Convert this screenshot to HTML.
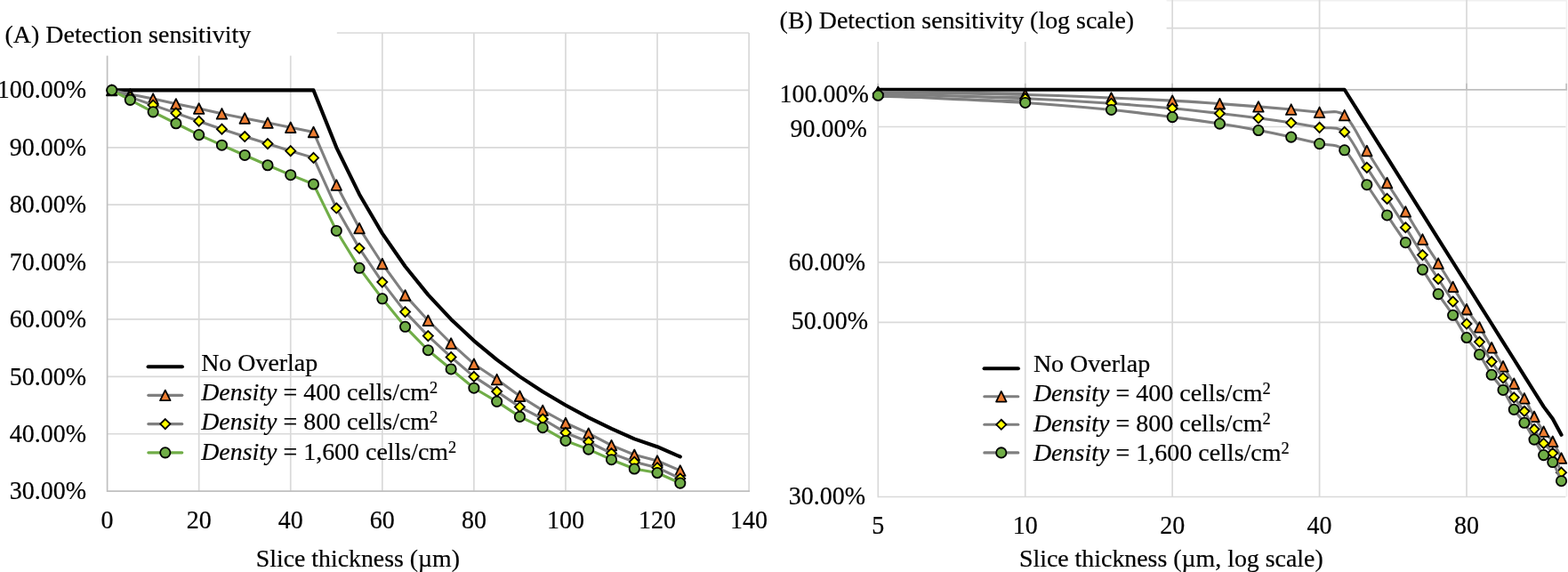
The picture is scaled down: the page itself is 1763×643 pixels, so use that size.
<!DOCTYPE html>
<html lang="en">
<head>
<meta charset="utf-8">
<title>Detection sensitivity vs slice thickness</title>
<style>
html,body{margin:0;padding:0;background:#fff;}
body{width:1763px;height:643px;overflow:hidden;font-family:"Liberation Serif","Times New Roman",serif;}
svg{display:block;}
</style>
</head>
<body>
<svg role="img" aria-label="Detection sensitivity versus slice thickness, linear and log scale" width="1763" height="643" viewBox="0 0 1763 643" font-family='&quot;Liberation Serif&quot;, &quot;Times New Roman&quot;, serif' fill="#000">
<style>text{stroke:#000;stroke-width:0.2px;stroke-linejoin:round;}</style>
<rect x="0" y="0" width="1763" height="643" fill="#fff"/>
<g id="chartA-grid">
<line x1="120.6" y1="37.01" x2="842.1" y2="37.01" stroke="#D9D9D9" stroke-width="1.7"/>
<line x1="120.6" y1="101.4" x2="842.1" y2="101.4" stroke="#D9D9D9" stroke-width="1.7"/>
<line x1="120.6" y1="165.79" x2="842.1" y2="165.79" stroke="#D9D9D9" stroke-width="1.7"/>
<line x1="120.6" y1="230.18" x2="842.1" y2="230.18" stroke="#D9D9D9" stroke-width="1.7"/>
<line x1="120.6" y1="294.56" x2="842.1" y2="294.56" stroke="#D9D9D9" stroke-width="1.7"/>
<line x1="120.6" y1="358.95" x2="842.1" y2="358.95" stroke="#D9D9D9" stroke-width="1.7"/>
<line x1="120.6" y1="423.34" x2="842.1" y2="423.34" stroke="#D9D9D9" stroke-width="1.7"/>
<line x1="120.6" y1="487.73" x2="842.1" y2="487.73" stroke="#D9D9D9" stroke-width="1.7"/>
<line x1="223.67" y1="37.01" x2="223.67" y2="552.12" stroke="#D9D9D9" stroke-width="1.7"/>
<line x1="326.74" y1="37.01" x2="326.74" y2="552.12" stroke="#D9D9D9" stroke-width="1.7"/>
<line x1="429.82" y1="37.01" x2="429.82" y2="552.12" stroke="#D9D9D9" stroke-width="1.7"/>
<line x1="532.89" y1="37.01" x2="532.89" y2="552.12" stroke="#D9D9D9" stroke-width="1.7"/>
<line x1="635.96" y1="37.01" x2="635.96" y2="552.12" stroke="#D9D9D9" stroke-width="1.7"/>
<line x1="739.03" y1="37.01" x2="739.03" y2="552.12" stroke="#D9D9D9" stroke-width="1.7"/>
<line x1="842.1" y1="37.01" x2="842.1" y2="552.12" stroke="#D9D9D9" stroke-width="1.7"/>
<line x1="120.6" y1="37.01" x2="120.6" y2="552.97" stroke="#BFBFBF" stroke-width="1.7"/>
<line x1="120.6" y1="552.12" x2="842.95" y2="552.12" stroke="#BFBFBF" stroke-width="1.7"/>
<rect x="0" y="0" width="378.8" height="62.6" fill="#fff"/>
</g>
<g id="chartB-grid">
<line x1="987.3" y1="0.7" x2="1762" y2="0.7" stroke="#F0F0F0" stroke-width="1.6"/>
<line x1="1761.4" y1="0" x2="1761.4" y2="558.5" stroke="#F0F0F0" stroke-width="1.6"/>
<line x1="987.3" y1="31.6" x2="1760.4" y2="31.6" stroke="#D9D9D9" stroke-width="1.7"/>
<line x1="987.3" y1="142.5" x2="1760.4" y2="142.5" stroke="#D9D9D9" stroke-width="1.7"/>
<line x1="987.3" y1="294.9" x2="1760.4" y2="294.9" stroke="#D9D9D9" stroke-width="1.7"/>
<line x1="987.3" y1="362.4" x2="1760.4" y2="362.4" stroke="#D9D9D9" stroke-width="1.7"/>
<line x1="1152.73" y1="0" x2="1152.73" y2="558.5" stroke="#D9D9D9" stroke-width="1.7"/>
<line x1="1318.16" y1="0" x2="1318.16" y2="558.5" stroke="#D9D9D9" stroke-width="1.7"/>
<line x1="1483.59" y1="0" x2="1483.59" y2="558.5" stroke="#D9D9D9" stroke-width="1.7"/>
<line x1="1649.02" y1="0" x2="1649.02" y2="558.5" stroke="#D9D9D9" stroke-width="1.7"/>
<line x1="987.3" y1="0" x2="987.3" y2="559.35" stroke="#D9D9D9" stroke-width="1.7"/>
<line x1="987.3" y1="558.5" x2="1760.4" y2="558.5" stroke="#D9D9D9" stroke-width="1.7"/>
<line x1="987.3" y1="100.9" x2="1762.05" y2="100.9" stroke="#BFBFBF" stroke-width="1.7"/>
<line x1="987.3" y1="93.8" x2="987.3" y2="100.9" stroke="#BFBFBF" stroke-width="1.7"/>
<line x1="1152.73" y1="93.8" x2="1152.73" y2="100.9" stroke="#BFBFBF" stroke-width="1.7"/>
<line x1="1318.16" y1="93.8" x2="1318.16" y2="100.9" stroke="#BFBFBF" stroke-width="1.7"/>
<line x1="1483.59" y1="93.8" x2="1483.59" y2="100.9" stroke="#BFBFBF" stroke-width="1.7"/>
<line x1="1649.02" y1="93.8" x2="1649.02" y2="100.9" stroke="#BFBFBF" stroke-width="1.7"/>
<line x1="1761.2" y1="93.8" x2="1761.2" y2="100.9" stroke="#BFBFBF" stroke-width="1.7"/>
<rect x="860" y="0" width="451.6" height="47" fill="#fff"/>
</g>
<g id="chartA-series">
<polyline points="125.75,101.4 146.37,101.4 172.14,101.4 197.9,101.4 223.67,101.4 249.44,101.4 275.21,101.4 300.98,101.4 326.74,101.4 352.51,101.4 378.28,165.79 404.05,218.47 429.82,262.37 455.58,299.52 481.35,331.36 507.12,358.95 532.89,383.1 558.66,404.4 584.42,423.34 610.19,440.28 635.96,455.53 661.73,469.33 687.5,481.87 713.26,493.33 739.03,502.22 764.8,513.48" fill="none" stroke="#000" stroke-width="4.1" stroke-linejoin="round" stroke-linecap="round" />
<polyline points="125.75,101.4 146.37,105.91 172.14,111.06 197.9,116.85 223.67,122 249.44,127.8 275.21,132.95 300.98,138.1 326.74,143.25 352.51,148.4 378.28,207.96 404.05,256.58 429.82,296.5 455.58,331.91 481.35,360.24 507.12,385.99 532.89,409.17 558.66,426.56 584.42,445.23 610.19,461.33 635.96,475.49 661.73,487.08 687.5,500.61 713.26,511.23 739.03,517.99 764.8,528.94" fill="none" stroke="#7F7F7F" stroke-width="3.1" stroke-linejoin="round" stroke-linecap="round" />
<path d="M125.75,95.65 L131.5,107.25 L120,107.25 Z" fill="#ED7D31" stroke="#000" stroke-width="1.8" stroke-linejoin="round"/>
<path d="M146.37,100.16 L152.12,111.76 L140.62,111.76 Z" fill="#ED7D31" stroke="#000" stroke-width="1.8" stroke-linejoin="round"/>
<path d="M172.14,105.31 L177.89,116.91 L166.39,116.91 Z" fill="#ED7D31" stroke="#000" stroke-width="1.8" stroke-linejoin="round"/>
<path d="M197.9,111.1 L203.65,122.7 L192.15,122.7 Z" fill="#ED7D31" stroke="#000" stroke-width="1.8" stroke-linejoin="round"/>
<path d="M223.67,116.25 L229.42,127.85 L217.92,127.85 Z" fill="#ED7D31" stroke="#000" stroke-width="1.8" stroke-linejoin="round"/>
<path d="M249.44,122.05 L255.19,133.65 L243.69,133.65 Z" fill="#ED7D31" stroke="#000" stroke-width="1.8" stroke-linejoin="round"/>
<path d="M275.21,127.2 L280.96,138.8 L269.46,138.8 Z" fill="#ED7D31" stroke="#000" stroke-width="1.8" stroke-linejoin="round"/>
<path d="M300.98,132.35 L306.73,143.95 L295.23,143.95 Z" fill="#ED7D31" stroke="#000" stroke-width="1.8" stroke-linejoin="round"/>
<path d="M326.74,137.5 L332.49,149.1 L320.99,149.1 Z" fill="#ED7D31" stroke="#000" stroke-width="1.8" stroke-linejoin="round"/>
<path d="M352.51,142.65 L358.26,154.25 L346.76,154.25 Z" fill="#ED7D31" stroke="#000" stroke-width="1.8" stroke-linejoin="round"/>
<path d="M378.28,202.21 L384.03,213.81 L372.53,213.81 Z" fill="#ED7D31" stroke="#000" stroke-width="1.8" stroke-linejoin="round"/>
<path d="M404.05,250.83 L409.8,262.43 L398.3,262.43 Z" fill="#ED7D31" stroke="#000" stroke-width="1.8" stroke-linejoin="round"/>
<path d="M429.82,290.75 L435.57,302.35 L424.07,302.35 Z" fill="#ED7D31" stroke="#000" stroke-width="1.8" stroke-linejoin="round"/>
<path d="M455.58,326.16 L461.33,337.76 L449.83,337.76 Z" fill="#ED7D31" stroke="#000" stroke-width="1.8" stroke-linejoin="round"/>
<path d="M481.35,354.49 L487.1,366.09 L475.6,366.09 Z" fill="#ED7D31" stroke="#000" stroke-width="1.8" stroke-linejoin="round"/>
<path d="M507.12,380.24 L512.87,391.84 L501.37,391.84 Z" fill="#ED7D31" stroke="#000" stroke-width="1.8" stroke-linejoin="round"/>
<path d="M532.89,403.42 L538.64,415.02 L527.14,415.02 Z" fill="#ED7D31" stroke="#000" stroke-width="1.8" stroke-linejoin="round"/>
<path d="M558.66,420.81 L564.41,432.41 L552.91,432.41 Z" fill="#ED7D31" stroke="#000" stroke-width="1.8" stroke-linejoin="round"/>
<path d="M584.42,439.48 L590.17,451.08 L578.67,451.08 Z" fill="#ED7D31" stroke="#000" stroke-width="1.8" stroke-linejoin="round"/>
<path d="M610.19,455.58 L615.94,467.18 L604.44,467.18 Z" fill="#ED7D31" stroke="#000" stroke-width="1.8" stroke-linejoin="round"/>
<path d="M635.96,469.74 L641.71,481.34 L630.21,481.34 Z" fill="#ED7D31" stroke="#000" stroke-width="1.8" stroke-linejoin="round"/>
<path d="M661.73,481.33 L667.48,492.93 L655.98,492.93 Z" fill="#ED7D31" stroke="#000" stroke-width="1.8" stroke-linejoin="round"/>
<path d="M687.5,494.86 L693.25,506.46 L681.75,506.46 Z" fill="#ED7D31" stroke="#000" stroke-width="1.8" stroke-linejoin="round"/>
<path d="M713.26,505.48 L719.01,517.08 L707.51,517.08 Z" fill="#ED7D31" stroke="#000" stroke-width="1.8" stroke-linejoin="round"/>
<path d="M739.03,512.24 L744.78,523.84 L733.28,523.84 Z" fill="#ED7D31" stroke="#000" stroke-width="1.8" stroke-linejoin="round"/>
<path d="M764.8,523.19 L770.55,534.79 L759.05,534.79 Z" fill="#ED7D31" stroke="#000" stroke-width="1.8" stroke-linejoin="round"/>
<polyline points="125.75,101.4 146.37,109.13 172.14,118.14 197.9,127.16 223.67,136.17 249.44,145.18 275.21,153.55 300.98,161.6 326.74,169.65 352.51,177.38 378.28,234.04 404.05,279.11 429.82,317.1 455.58,350.58 481.35,377.62 507.12,401.45 532.89,423.34 558.66,440.08 584.42,457.47 610.19,470.99 635.96,486.44 661.73,496.74 687.5,509.62 713.26,519.28 739.03,525.72 764.8,537.95" fill="none" stroke="#7F7F7F" stroke-width="3.1" stroke-linejoin="round" stroke-linecap="round" />
<path d="M125.75,95.85 L131.3,101.4 L125.75,106.95 L120.2,101.4 Z" fill="#FFFF00" stroke="#000" stroke-width="1.8" stroke-linejoin="miter"/>
<path d="M146.37,103.58 L151.92,109.13 L146.37,114.68 L140.82,109.13 Z" fill="#FFFF00" stroke="#000" stroke-width="1.8" stroke-linejoin="miter"/>
<path d="M172.14,112.59 L177.69,118.14 L172.14,123.69 L166.59,118.14 Z" fill="#FFFF00" stroke="#000" stroke-width="1.8" stroke-linejoin="miter"/>
<path d="M197.9,121.61 L203.45,127.16 L197.9,132.71 L192.35,127.16 Z" fill="#FFFF00" stroke="#000" stroke-width="1.8" stroke-linejoin="miter"/>
<path d="M223.67,130.62 L229.22,136.17 L223.67,141.72 L218.12,136.17 Z" fill="#FFFF00" stroke="#000" stroke-width="1.8" stroke-linejoin="miter"/>
<path d="M249.44,139.63 L254.99,145.18 L249.44,150.73 L243.89,145.18 Z" fill="#FFFF00" stroke="#000" stroke-width="1.8" stroke-linejoin="miter"/>
<path d="M275.21,148 L280.76,153.55 L275.21,159.1 L269.66,153.55 Z" fill="#FFFF00" stroke="#000" stroke-width="1.8" stroke-linejoin="miter"/>
<path d="M300.98,156.05 L306.53,161.6 L300.98,167.15 L295.43,161.6 Z" fill="#FFFF00" stroke="#000" stroke-width="1.8" stroke-linejoin="miter"/>
<path d="M326.74,164.1 L332.29,169.65 L326.74,175.2 L321.19,169.65 Z" fill="#FFFF00" stroke="#000" stroke-width="1.8" stroke-linejoin="miter"/>
<path d="M352.51,171.83 L358.06,177.38 L352.51,182.93 L346.96,177.38 Z" fill="#FFFF00" stroke="#000" stroke-width="1.8" stroke-linejoin="miter"/>
<path d="M378.28,228.49 L383.83,234.04 L378.28,239.59 L372.73,234.04 Z" fill="#FFFF00" stroke="#000" stroke-width="1.8" stroke-linejoin="miter"/>
<path d="M404.05,273.56 L409.6,279.11 L404.05,284.66 L398.5,279.11 Z" fill="#FFFF00" stroke="#000" stroke-width="1.8" stroke-linejoin="miter"/>
<path d="M429.82,311.55 L435.37,317.1 L429.82,322.65 L424.27,317.1 Z" fill="#FFFF00" stroke="#000" stroke-width="1.8" stroke-linejoin="miter"/>
<path d="M455.58,345.03 L461.13,350.58 L455.58,356.13 L450.03,350.58 Z" fill="#FFFF00" stroke="#000" stroke-width="1.8" stroke-linejoin="miter"/>
<path d="M481.35,372.07 L486.9,377.62 L481.35,383.17 L475.8,377.62 Z" fill="#FFFF00" stroke="#000" stroke-width="1.8" stroke-linejoin="miter"/>
<path d="M507.12,395.9 L512.67,401.45 L507.12,407 L501.57,401.45 Z" fill="#FFFF00" stroke="#000" stroke-width="1.8" stroke-linejoin="miter"/>
<path d="M532.89,417.79 L538.44,423.34 L532.89,428.89 L527.34,423.34 Z" fill="#FFFF00" stroke="#000" stroke-width="1.8" stroke-linejoin="miter"/>
<path d="M558.66,434.53 L564.21,440.08 L558.66,445.63 L553.11,440.08 Z" fill="#FFFF00" stroke="#000" stroke-width="1.8" stroke-linejoin="miter"/>
<path d="M584.42,451.92 L589.97,457.47 L584.42,463.02 L578.87,457.47 Z" fill="#FFFF00" stroke="#000" stroke-width="1.8" stroke-linejoin="miter"/>
<path d="M610.19,465.44 L615.74,470.99 L610.19,476.54 L604.64,470.99 Z" fill="#FFFF00" stroke="#000" stroke-width="1.8" stroke-linejoin="miter"/>
<path d="M635.96,480.89 L641.51,486.44 L635.96,491.99 L630.41,486.44 Z" fill="#FFFF00" stroke="#000" stroke-width="1.8" stroke-linejoin="miter"/>
<path d="M661.73,491.19 L667.28,496.74 L661.73,502.29 L656.18,496.74 Z" fill="#FFFF00" stroke="#000" stroke-width="1.8" stroke-linejoin="miter"/>
<path d="M687.5,504.07 L693.05,509.62 L687.5,515.17 L681.95,509.62 Z" fill="#FFFF00" stroke="#000" stroke-width="1.8" stroke-linejoin="miter"/>
<path d="M713.26,513.73 L718.81,519.28 L713.26,524.83 L707.71,519.28 Z" fill="#FFFF00" stroke="#000" stroke-width="1.8" stroke-linejoin="miter"/>
<path d="M739.03,520.17 L744.58,525.72 L739.03,531.27 L733.48,525.72 Z" fill="#FFFF00" stroke="#000" stroke-width="1.8" stroke-linejoin="miter"/>
<path d="M764.8,532.4 L770.35,537.95 L764.8,543.5 L759.25,537.95 Z" fill="#FFFF00" stroke="#000" stroke-width="1.8" stroke-linejoin="miter"/>
<polyline points="125.75,101.4 146.37,112.35 172.14,125.87 197.9,138.75 223.67,151.62 249.44,163.21 275.21,174.48 300.98,185.75 326.74,196.69 352.51,207 378.28,259.47 404.05,301.32 429.82,335.77 455.58,367.32 481.35,393.72 507.12,414.97 532.89,436.22 558.66,451.35 584.42,468.41 610.19,480.65 635.96,495.45 661.73,505.11 687.5,516.7 713.26,527 739.03,531.51 764.8,543.1" fill="none" stroke="#70AD47" stroke-width="3.1" stroke-linejoin="round" stroke-linecap="round" />
<circle cx="125.75" cy="101.4" r="5.65" fill="#70AD47" stroke="#000" stroke-width="1.8"/>
<circle cx="146.37" cy="112.35" r="5.65" fill="#70AD47" stroke="#000" stroke-width="1.8"/>
<circle cx="172.14" cy="125.87" r="5.65" fill="#70AD47" stroke="#000" stroke-width="1.8"/>
<circle cx="197.9" cy="138.75" r="5.65" fill="#70AD47" stroke="#000" stroke-width="1.8"/>
<circle cx="223.67" cy="151.62" r="5.65" fill="#70AD47" stroke="#000" stroke-width="1.8"/>
<circle cx="249.44" cy="163.21" r="5.65" fill="#70AD47" stroke="#000" stroke-width="1.8"/>
<circle cx="275.21" cy="174.48" r="5.65" fill="#70AD47" stroke="#000" stroke-width="1.8"/>
<circle cx="300.98" cy="185.75" r="5.65" fill="#70AD47" stroke="#000" stroke-width="1.8"/>
<circle cx="326.74" cy="196.69" r="5.65" fill="#70AD47" stroke="#000" stroke-width="1.8"/>
<circle cx="352.51" cy="207" r="5.65" fill="#70AD47" stroke="#000" stroke-width="1.8"/>
<circle cx="378.28" cy="259.47" r="5.65" fill="#70AD47" stroke="#000" stroke-width="1.8"/>
<circle cx="404.05" cy="301.32" r="5.65" fill="#70AD47" stroke="#000" stroke-width="1.8"/>
<circle cx="429.82" cy="335.77" r="5.65" fill="#70AD47" stroke="#000" stroke-width="1.8"/>
<circle cx="455.58" cy="367.32" r="5.65" fill="#70AD47" stroke="#000" stroke-width="1.8"/>
<circle cx="481.35" cy="393.72" r="5.65" fill="#70AD47" stroke="#000" stroke-width="1.8"/>
<circle cx="507.12" cy="414.97" r="5.65" fill="#70AD47" stroke="#000" stroke-width="1.8"/>
<circle cx="532.89" cy="436.22" r="5.65" fill="#70AD47" stroke="#000" stroke-width="1.8"/>
<circle cx="558.66" cy="451.35" r="5.65" fill="#70AD47" stroke="#000" stroke-width="1.8"/>
<circle cx="584.42" cy="468.41" r="5.65" fill="#70AD47" stroke="#000" stroke-width="1.8"/>
<circle cx="610.19" cy="480.65" r="5.65" fill="#70AD47" stroke="#000" stroke-width="1.8"/>
<circle cx="635.96" cy="495.45" r="5.65" fill="#70AD47" stroke="#000" stroke-width="1.8"/>
<circle cx="661.73" cy="505.11" r="5.65" fill="#70AD47" stroke="#000" stroke-width="1.8"/>
<circle cx="687.5" cy="516.7" r="5.65" fill="#70AD47" stroke="#000" stroke-width="1.8"/>
<circle cx="713.26" cy="527" r="5.65" fill="#70AD47" stroke="#000" stroke-width="1.8"/>
<circle cx="739.03" cy="531.51" r="5.65" fill="#70AD47" stroke="#000" stroke-width="1.8"/>
<circle cx="764.8" cy="543.1" r="5.65" fill="#70AD47" stroke="#000" stroke-width="1.8"/>
</g>
<defs><clipPath id="clipB"><rect x="987.3" y="0" width="775.7" height="558.5"/></clipPath></defs>
<g id="chartB-series">
<polyline points="987.3,100.75 1152.73,100.75 1249.5,100.75 1318.16,100.75 1371.42,100.75 1414.93,100.75 1451.72,100.75 1483.59,100.75 1511.7,100.75 1536.85,140.77 1559.59,176.96 1580.36,210.01 1599.46,240.41 1617.15,268.56 1633.62,294.76 1649.02,319.27 1663.49,342.3 1677.13,364.01 1690.03,384.54 1702.28,404.02 1713.92,422.55 1725.02,440.22 1735.63,457.1 1745.79,470.75 1755.53,488.77" fill="none" stroke="#000" stroke-width="4.1" stroke-linejoin="round" stroke-linecap="round" />
<polyline points="988.3,102.9 1152.73,104.5" fill="none" stroke="#7F7F7F" stroke-width="1.8" stroke-linejoin="round" stroke-linecap="round" />
<polyline points="988.3,108.9 1152.73,113.3" fill="none" stroke="#7F7F7F" stroke-width="1.6" stroke-linejoin="round" stroke-linecap="round" />
<polyline points="988.3,106.5 1152.73,108.8" fill="none" stroke="#7F7F7F" stroke-width="1.2" stroke-linejoin="round" stroke-linecap="round" />
<path d="M987.3,103.42 C1014.87,103.93 1109.03,105.4 1152.73,106.49 C1196.43,107.58 1221.93,108.87 1249.5,109.98 C1277.07,111.08 1297.84,111.99 1318.16,113.1 C1338.48,114.21 1355.29,115.53 1371.42,116.65 C1387.54,117.77 1401.55,118.77 1414.93,119.83 C1428.31,120.9 1440.28,121.97 1451.72,123.04 C1463.16,124.11 1473.59,125.19 1483.59,126.28 C1493.59,127.36 1502.82,122.34 1511.7,129.54 C1520.58,136.74 1528.86,156.81 1536.85,169.46 C1544.83,182.12 1552.34,194.08 1559.59,205.48 C1566.85,216.88 1573.72,227.25 1580.36,237.85 C1587.01,248.44 1593.33,259.37 1599.46,269.06 C1605.6,278.76 1611.46,287.15 1617.15,296.03 C1622.84,304.91 1628.31,313.72 1633.62,322.32 C1638.93,330.93 1644.04,340.07 1649.02,347.65 C1654,355.24 1658.8,360.64 1663.49,367.82 C1668.17,375.01 1672.71,383.44 1677.13,390.75 C1681.55,398.07 1685.84,404.97 1690.03,411.7 C1694.23,418.43 1698.3,425.11 1702.28,431.13 C1706.26,437.15 1710.13,441.62 1713.92,447.81 C1717.71,453.99 1721.41,462.02 1725.02,468.24 C1728.64,474.45 1732.17,480.43 1735.63,485.1 C1739.09,489.76 1742.47,491.25 1745.79,496.23 C1749.11,501.21 1753.91,511.85 1755.53,514.98" fill="none" stroke="#7F7F7F" stroke-width="3.1" stroke-linejoin="round" stroke-linecap="round" />
<path d="M987.3,97.67 L993.05,109.27 L981.55,109.27 Z" fill="#ED7D31" stroke="#000" stroke-width="1.8" stroke-linejoin="round"/>
<path d="M1152.73,100.74 L1158.48,112.34 L1146.98,112.34 Z" fill="#ED7D31" stroke="#000" stroke-width="1.8" stroke-linejoin="round"/>
<path d="M1249.5,104.23 L1255.25,115.83 L1243.75,115.83 Z" fill="#ED7D31" stroke="#000" stroke-width="1.8" stroke-linejoin="round"/>
<path d="M1318.16,107.35 L1323.91,118.95 L1312.41,118.95 Z" fill="#ED7D31" stroke="#000" stroke-width="1.8" stroke-linejoin="round"/>
<path d="M1371.42,110.9 L1377.17,122.5 L1365.67,122.5 Z" fill="#ED7D31" stroke="#000" stroke-width="1.8" stroke-linejoin="round"/>
<path d="M1414.93,114.08 L1420.68,125.68 L1409.18,125.68 Z" fill="#ED7D31" stroke="#000" stroke-width="1.8" stroke-linejoin="round"/>
<path d="M1451.72,117.29 L1457.47,128.89 L1445.97,128.89 Z" fill="#ED7D31" stroke="#000" stroke-width="1.8" stroke-linejoin="round"/>
<path d="M1483.59,120.53 L1489.34,132.13 L1477.84,132.13 Z" fill="#ED7D31" stroke="#000" stroke-width="1.8" stroke-linejoin="round"/>
<path d="M1511.7,123.79 L1517.45,135.39 L1505.95,135.39 Z" fill="#ED7D31" stroke="#000" stroke-width="1.8" stroke-linejoin="round"/>
<path d="M1536.85,163.71 L1542.6,175.31 L1531.1,175.31 Z" fill="#ED7D31" stroke="#000" stroke-width="1.8" stroke-linejoin="round"/>
<path d="M1559.59,199.73 L1565.34,211.33 L1553.84,211.33 Z" fill="#ED7D31" stroke="#000" stroke-width="1.8" stroke-linejoin="round"/>
<path d="M1580.36,232.1 L1586.11,243.7 L1574.61,243.7 Z" fill="#ED7D31" stroke="#000" stroke-width="1.8" stroke-linejoin="round"/>
<path d="M1599.46,263.31 L1605.21,274.91 L1593.71,274.91 Z" fill="#ED7D31" stroke="#000" stroke-width="1.8" stroke-linejoin="round"/>
<path d="M1617.15,290.28 L1622.9,301.88 L1611.4,301.88 Z" fill="#ED7D31" stroke="#000" stroke-width="1.8" stroke-linejoin="round"/>
<path d="M1633.62,316.57 L1639.37,328.17 L1627.87,328.17 Z" fill="#ED7D31" stroke="#000" stroke-width="1.8" stroke-linejoin="round"/>
<path d="M1649.02,341.9 L1654.77,353.5 L1643.27,353.5 Z" fill="#ED7D31" stroke="#000" stroke-width="1.8" stroke-linejoin="round"/>
<path d="M1663.49,362.07 L1669.24,373.67 L1657.74,373.67 Z" fill="#ED7D31" stroke="#000" stroke-width="1.8" stroke-linejoin="round"/>
<path d="M1677.13,385 L1682.88,396.6 L1671.38,396.6 Z" fill="#ED7D31" stroke="#000" stroke-width="1.8" stroke-linejoin="round"/>
<path d="M1690.03,405.95 L1695.78,417.55 L1684.28,417.55 Z" fill="#ED7D31" stroke="#000" stroke-width="1.8" stroke-linejoin="round"/>
<path d="M1702.28,425.38 L1708.03,436.98 L1696.53,436.98 Z" fill="#ED7D31" stroke="#000" stroke-width="1.8" stroke-linejoin="round"/>
<path d="M1713.92,442.06 L1719.67,453.66 L1708.17,453.66 Z" fill="#ED7D31" stroke="#000" stroke-width="1.8" stroke-linejoin="round"/>
<path d="M1725.02,462.49 L1730.77,474.09 L1719.27,474.09 Z" fill="#ED7D31" stroke="#000" stroke-width="1.8" stroke-linejoin="round"/>
<path d="M1735.63,479.35 L1741.38,490.95 L1729.88,490.95 Z" fill="#ED7D31" stroke="#000" stroke-width="1.8" stroke-linejoin="round"/>
<path d="M1745.79,490.48 L1751.54,502.08 L1740.04,502.08 Z" fill="#ED7D31" stroke="#000" stroke-width="1.8" stroke-linejoin="round"/>
<path d="M1755.53,509.23 L1761.28,520.83 L1749.78,520.83 Z" fill="#ED7D31" stroke="#000" stroke-width="1.8" stroke-linejoin="round"/>
<path d="M987.3,105.34 C1014.87,106.24 1109.03,108.94 1152.73,110.76 C1196.43,112.58 1221.93,114.41 1249.5,116.25 C1277.07,118.1 1297.84,119.96 1318.16,121.83 C1338.48,123.71 1355.29,125.66 1371.42,127.5 C1387.54,129.33 1401.55,131.08 1414.93,132.83 C1428.31,134.59 1440.28,136.29 1451.72,138.03 C1463.16,139.78 1473.59,141.57 1483.59,143.31 C1493.59,145.04 1502.82,140.93 1511.7,148.44 C1520.58,155.95 1528.86,175.86 1536.85,188.36 C1544.83,200.85 1552.34,212.19 1559.59,223.41 C1566.85,234.63 1573.72,245.16 1580.36,255.7 C1587.01,266.23 1593.33,276.97 1599.46,286.62 C1605.6,296.27 1611.46,304.84 1617.15,313.58 C1622.84,322.31 1628.31,330.62 1633.62,339.02 C1638.93,347.43 1644.04,356.46 1649.02,364.01 C1654,371.55 1658.8,377.2 1663.49,384.29 C1668.17,391.38 1672.71,399.81 1677.13,406.56 C1681.55,413.32 1685.84,418.12 1690.03,424.84 C1694.23,431.56 1698.3,440.62 1702.28,446.86 C1706.26,453.1 1710.13,456.35 1713.92,462.29 C1717.71,468.23 1721.41,476.48 1725.02,482.5 C1728.64,488.51 1732.17,493.91 1735.63,498.39 C1739.09,502.87 1742.47,503.91 1745.79,509.37 C1749.11,514.83 1753.91,527.51 1755.53,531.14" fill="none" stroke="#7F7F7F" stroke-width="3.1" stroke-linejoin="round" stroke-linecap="round" />
<path d="M987.3,99.79 L992.85,105.34 L987.3,110.89 L981.75,105.34 Z" fill="#FFFF00" stroke="#000" stroke-width="1.8" stroke-linejoin="miter"/>
<path d="M1152.73,105.21 L1158.28,110.76 L1152.73,116.31 L1147.18,110.76 Z" fill="#FFFF00" stroke="#000" stroke-width="1.8" stroke-linejoin="miter"/>
<path d="M1249.5,110.7 L1255.05,116.25 L1249.5,121.8 L1243.95,116.25 Z" fill="#FFFF00" stroke="#000" stroke-width="1.8" stroke-linejoin="miter"/>
<path d="M1318.16,116.28 L1323.71,121.83 L1318.16,127.38 L1312.61,121.83 Z" fill="#FFFF00" stroke="#000" stroke-width="1.8" stroke-linejoin="miter"/>
<path d="M1371.42,121.95 L1376.97,127.5 L1371.42,133.05 L1365.87,127.5 Z" fill="#FFFF00" stroke="#000" stroke-width="1.8" stroke-linejoin="miter"/>
<path d="M1414.93,127.28 L1420.48,132.83 L1414.93,138.38 L1409.38,132.83 Z" fill="#FFFF00" stroke="#000" stroke-width="1.8" stroke-linejoin="miter"/>
<path d="M1451.72,132.48 L1457.27,138.03 L1451.72,143.58 L1446.17,138.03 Z" fill="#FFFF00" stroke="#000" stroke-width="1.8" stroke-linejoin="miter"/>
<path d="M1483.59,137.76 L1489.14,143.31 L1483.59,148.86 L1478.04,143.31 Z" fill="#FFFF00" stroke="#000" stroke-width="1.8" stroke-linejoin="miter"/>
<path d="M1511.7,142.89 L1517.25,148.44 L1511.7,153.99 L1506.15,148.44 Z" fill="#FFFF00" stroke="#000" stroke-width="1.8" stroke-linejoin="miter"/>
<path d="M1536.85,182.81 L1542.4,188.36 L1536.85,193.91 L1531.3,188.36 Z" fill="#FFFF00" stroke="#000" stroke-width="1.8" stroke-linejoin="miter"/>
<path d="M1559.59,217.86 L1565.14,223.41 L1559.59,228.96 L1554.04,223.41 Z" fill="#FFFF00" stroke="#000" stroke-width="1.8" stroke-linejoin="miter"/>
<path d="M1580.36,250.15 L1585.91,255.7 L1580.36,261.25 L1574.81,255.7 Z" fill="#FFFF00" stroke="#000" stroke-width="1.8" stroke-linejoin="miter"/>
<path d="M1599.46,281.07 L1605.01,286.62 L1599.46,292.17 L1593.91,286.62 Z" fill="#FFFF00" stroke="#000" stroke-width="1.8" stroke-linejoin="miter"/>
<path d="M1617.15,308.03 L1622.7,313.58 L1617.15,319.13 L1611.6,313.58 Z" fill="#FFFF00" stroke="#000" stroke-width="1.8" stroke-linejoin="miter"/>
<path d="M1633.62,333.47 L1639.17,339.02 L1633.62,344.57 L1628.07,339.02 Z" fill="#FFFF00" stroke="#000" stroke-width="1.8" stroke-linejoin="miter"/>
<path d="M1649.02,358.46 L1654.57,364.01 L1649.02,369.56 L1643.47,364.01 Z" fill="#FFFF00" stroke="#000" stroke-width="1.8" stroke-linejoin="miter"/>
<path d="M1663.49,378.74 L1669.04,384.29 L1663.49,389.84 L1657.94,384.29 Z" fill="#FFFF00" stroke="#000" stroke-width="1.8" stroke-linejoin="miter"/>
<path d="M1677.13,401.01 L1682.68,406.56 L1677.13,412.11 L1671.58,406.56 Z" fill="#FFFF00" stroke="#000" stroke-width="1.8" stroke-linejoin="miter"/>
<path d="M1690.03,419.29 L1695.58,424.84 L1690.03,430.39 L1684.48,424.84 Z" fill="#FFFF00" stroke="#000" stroke-width="1.8" stroke-linejoin="miter"/>
<path d="M1702.28,441.31 L1707.83,446.86 L1702.28,452.41 L1696.73,446.86 Z" fill="#FFFF00" stroke="#000" stroke-width="1.8" stroke-linejoin="miter"/>
<path d="M1713.92,456.74 L1719.47,462.29 L1713.92,467.84 L1708.37,462.29 Z" fill="#FFFF00" stroke="#000" stroke-width="1.8" stroke-linejoin="miter"/>
<path d="M1725.02,476.95 L1730.57,482.5 L1725.02,488.05 L1719.47,482.5 Z" fill="#FFFF00" stroke="#000" stroke-width="1.8" stroke-linejoin="miter"/>
<path d="M1735.63,492.84 L1741.18,498.39 L1735.63,503.94 L1730.08,498.39 Z" fill="#FFFF00" stroke="#000" stroke-width="1.8" stroke-linejoin="miter"/>
<path d="M1745.79,503.82 L1751.34,509.37 L1745.79,514.92 L1740.24,509.37 Z" fill="#FFFF00" stroke="#000" stroke-width="1.8" stroke-linejoin="miter"/>
<path d="M1755.53,525.59 L1761.08,531.14 L1755.53,536.69 L1749.98,531.14 Z" fill="#FFFF00" stroke="#000" stroke-width="1.8" stroke-linejoin="miter"/>
<path d="M987.3,107.26 C1014.87,108.63 1109.03,112.77 1152.73,115.46 C1196.43,118.16 1221.93,120.75 1249.5,123.44 C1277.07,126.13 1297.84,128.99 1318.16,131.59 C1338.48,134.2 1355.29,136.6 1371.42,139.08 C1387.54,141.57 1401.55,144.01 1414.93,146.51 C1428.31,149.01 1440.28,151.57 1451.72,154.08 C1463.16,156.59 1473.59,159.13 1483.59,161.58 C1493.59,164.03 1502.82,161.09 1511.7,168.78 C1520.58,176.48 1528.86,195.54 1536.85,207.74 C1544.83,219.94 1552.34,231.14 1559.59,241.96 C1566.85,252.77 1573.72,262.44 1580.36,272.63 C1587.01,282.82 1593.33,293.42 1599.46,303.08 C1605.6,312.74 1611.46,322.05 1617.15,330.58 C1622.84,339.11 1628.31,346.1 1633.62,354.26 C1638.93,362.41 1644.04,372.13 1649.02,379.51 C1654,386.9 1658.8,391.61 1663.49,398.58 C1668.17,405.54 1672.71,414.64 1677.13,421.29 C1681.55,427.94 1685.84,431.95 1690.03,438.45 C1694.23,444.96 1698.3,454.18 1702.28,460.33 C1706.26,466.47 1710.13,469.67 1713.92,475.3 C1717.71,480.93 1721.41,488.04 1725.02,494.09 C1728.64,500.14 1732.17,507.36 1735.63,511.6 C1739.09,515.84 1742.47,514.68 1745.79,519.53 C1749.11,524.37 1753.91,537.17 1755.53,540.7" fill="none" stroke="#7F7F7F" stroke-width="3.1" stroke-linejoin="round" stroke-linecap="round" />
<circle cx="987.3" cy="107.26" r="5.65" fill="#70AD47" stroke="#000" stroke-width="1.8"/>
<circle cx="1152.73" cy="115.46" r="5.65" fill="#70AD47" stroke="#000" stroke-width="1.8"/>
<circle cx="1249.5" cy="123.44" r="5.65" fill="#70AD47" stroke="#000" stroke-width="1.8"/>
<circle cx="1318.16" cy="131.59" r="5.65" fill="#70AD47" stroke="#000" stroke-width="1.8"/>
<circle cx="1371.42" cy="139.08" r="5.65" fill="#70AD47" stroke="#000" stroke-width="1.8"/>
<circle cx="1414.93" cy="146.51" r="5.65" fill="#70AD47" stroke="#000" stroke-width="1.8"/>
<circle cx="1451.72" cy="154.08" r="5.65" fill="#70AD47" stroke="#000" stroke-width="1.8"/>
<circle cx="1483.59" cy="161.58" r="5.65" fill="#70AD47" stroke="#000" stroke-width="1.8"/>
<circle cx="1511.7" cy="168.78" r="5.65" fill="#70AD47" stroke="#000" stroke-width="1.8"/>
<circle cx="1536.85" cy="207.74" r="5.65" fill="#70AD47" stroke="#000" stroke-width="1.8"/>
<circle cx="1559.59" cy="241.96" r="5.65" fill="#70AD47" stroke="#000" stroke-width="1.8"/>
<circle cx="1580.36" cy="272.63" r="5.65" fill="#70AD47" stroke="#000" stroke-width="1.8"/>
<circle cx="1599.46" cy="303.08" r="5.65" fill="#70AD47" stroke="#000" stroke-width="1.8"/>
<circle cx="1617.15" cy="330.58" r="5.65" fill="#70AD47" stroke="#000" stroke-width="1.8"/>
<circle cx="1633.62" cy="354.26" r="5.65" fill="#70AD47" stroke="#000" stroke-width="1.8"/>
<circle cx="1649.02" cy="379.51" r="5.65" fill="#70AD47" stroke="#000" stroke-width="1.8"/>
<circle cx="1663.49" cy="398.58" r="5.65" fill="#70AD47" stroke="#000" stroke-width="1.8"/>
<circle cx="1677.13" cy="421.29" r="5.65" fill="#70AD47" stroke="#000" stroke-width="1.8"/>
<circle cx="1690.03" cy="438.45" r="5.65" fill="#70AD47" stroke="#000" stroke-width="1.8"/>
<circle cx="1702.28" cy="460.33" r="5.65" fill="#70AD47" stroke="#000" stroke-width="1.8"/>
<circle cx="1713.92" cy="475.3" r="5.65" fill="#70AD47" stroke="#000" stroke-width="1.8"/>
<circle cx="1725.02" cy="494.09" r="5.65" fill="#70AD47" stroke="#000" stroke-width="1.8"/>
<circle cx="1735.63" cy="511.6" r="5.65" fill="#70AD47" stroke="#000" stroke-width="1.8"/>
<circle cx="1745.79" cy="519.53" r="5.65" fill="#70AD47" stroke="#000" stroke-width="1.8"/>
<circle cx="1755.53" cy="540.7" r="5.65" fill="#70AD47" stroke="#000" stroke-width="1.8"/>
</g>
<g id="labels">
<text x="5.4" y="48" text-anchor="start" font-size="28" >(A) Detection sensitivity</text>
<text x="876.6" y="32.3" text-anchor="start" font-size="27.93" >(B) Detection sensitivity (log scale)</text>
<text transform="translate(97,110.2) scale(1,1.08)" text-anchor="end" font-size="28" >100.00%</text>
<text transform="translate(97,174.99) scale(1,1.08)" text-anchor="end" font-size="28" >90.00%</text>
<text transform="translate(97,239.38) scale(1,1.08)" text-anchor="end" font-size="28" >80.00%</text>
<text transform="translate(97,303.76) scale(1,1.08)" text-anchor="end" font-size="28" >70.00%</text>
<text transform="translate(97,368.15) scale(1,1.08)" text-anchor="end" font-size="28" >60.00%</text>
<text transform="translate(97,432.54) scale(1,1.08)" text-anchor="end" font-size="28" >50.00%</text>
<text transform="translate(97,496.93) scale(1,1.08)" text-anchor="end" font-size="28" >40.00%</text>
<text transform="translate(97,561.32) scale(1,1.08)" text-anchor="end" font-size="28" >30.00%</text>
<text transform="translate(120.6,594) scale(1,1.08)" text-anchor="middle" font-size="28" >0</text>
<text transform="translate(223.67,594) scale(1,1.08)" text-anchor="middle" font-size="28" >20</text>
<text transform="translate(326.74,594) scale(1,1.08)" text-anchor="middle" font-size="28" >40</text>
<text transform="translate(429.82,594) scale(1,1.08)" text-anchor="middle" font-size="28" >60</text>
<text transform="translate(532.89,594) scale(1,1.08)" text-anchor="middle" font-size="28" >80</text>
<text transform="translate(635.96,594) scale(1,1.08)" text-anchor="middle" font-size="28" >100</text>
<text transform="translate(739.03,594) scale(1,1.08)" text-anchor="middle" font-size="28" >120</text>
<text transform="translate(842.1,594) scale(1,1.08)" text-anchor="middle" font-size="28" >140</text>
<text x="402.35" y="637" text-anchor="middle" font-size="27.82" >Slice thickness (µm)</text>
<text transform="translate(976.7,115) scale(1,1.08)" text-anchor="end" font-size="28" >100.00%</text>
<text transform="translate(974.9,153.5) scale(1,1.08)" text-anchor="end" font-size="28" >90.00%</text>
<text transform="translate(973,303.5) scale(1,1.08)" text-anchor="end" font-size="28" >60.00%</text>
<text transform="translate(976,369.5) scale(1,1.08)" text-anchor="end" font-size="28" >50.00%</text>
<text transform="translate(973,567) scale(1,1.08)" text-anchor="end" font-size="28" >30.00%</text>
<text transform="translate(987.3,600) scale(1,1.08)" text-anchor="middle" font-size="28" >5</text>
<text transform="translate(1152.73,600) scale(1,1.08)" text-anchor="middle" font-size="28" >10</text>
<text transform="translate(1318.16,600) scale(1,1.08)" text-anchor="middle" font-size="28" >20</text>
<text transform="translate(1483.59,600) scale(1,1.08)" text-anchor="middle" font-size="28" >40</text>
<text transform="translate(1649.02,600) scale(1,1.08)" text-anchor="middle" font-size="28" >80</text>
<text x="1316.85" y="637" text-anchor="middle" font-size="27.87" >Slice thickness (µm, log scale)</text>
</g>
<g class="legend">
<line x1="166.6" y1="412.3" x2="204.9" y2="412.3" stroke="#000" stroke-width="4.1" stroke-linecap="round"/>
<text x="226.2" y="416.6" text-anchor="start" font-size="27.93" >No Overlap</text>
<line x1="166.8" y1="444.35" x2="204.8" y2="444.35" stroke="#7F7F7F" stroke-width="3.1" stroke-linecap="round"/>
<path d="M185.8,438.6 L191.55,450.2 L180.05,450.2 Z" fill="#ED7D31" stroke="#000" stroke-width="1.8" stroke-linejoin="round"/>
<text x="226.2" y="449.97" text-anchor="start" font-size="27.93" ><tspan font-style="italic">Density</tspan> = 400 cells/cm<tspan font-size="18.29" dy="-8.0">2</tspan></text>
<line x1="166.8" y1="476.6" x2="204.8" y2="476.6" stroke="#7F7F7F" stroke-width="3.1" stroke-linecap="round"/>
<path d="M185.8,471.05 L191.35,476.6 L185.8,482.15 L180.25,476.6 Z" fill="#FFFF00" stroke="#000" stroke-width="1.8" stroke-linejoin="miter"/>
<text x="226.2" y="483.34" text-anchor="start" font-size="27.93" ><tspan font-style="italic">Density</tspan> = 800 cells/cm<tspan font-size="18.29" dy="-8.0">2</tspan></text>
<line x1="166.8" y1="508.85" x2="204.8" y2="508.85" stroke="#70AD47" stroke-width="3.1" stroke-linecap="round"/>
<circle cx="185.8" cy="508.85" r="5.65" fill="#70AD47" stroke="#000" stroke-width="1.8"/>
<text x="226.2" y="516.71" text-anchor="start" font-size="27.93" ><tspan font-style="italic">Density</tspan> = 1,600 cells/cm<tspan font-size="18.29" dy="-8.0">2</tspan></text>
</g>
<g class="legend">
<line x1="1106.6" y1="414.3" x2="1144.9" y2="414.3" stroke="#000" stroke-width="4.1" stroke-linecap="round"/>
<text x="1161.9" y="417.7" text-anchor="start" font-size="28" >No Overlap</text>
<line x1="1106.8" y1="445.7" x2="1144.8" y2="445.7" stroke="#7F7F7F" stroke-width="3.1" stroke-linecap="round"/>
<path d="M1125.8,439.95 L1131.55,451.55 L1120.05,451.55 Z" fill="#ED7D31" stroke="#000" stroke-width="1.8" stroke-linejoin="round"/>
<text x="1161.9" y="451.2" text-anchor="start" font-size="28" ><tspan font-style="italic">Density</tspan> = 400 cells/cm<tspan font-size="18.34" dy="-8.0">2</tspan></text>
<line x1="1106.8" y1="477.3" x2="1144.8" y2="477.3" stroke="#7F7F7F" stroke-width="3.1" stroke-linecap="round"/>
<path d="M1125.8,471.75 L1131.35,477.3 L1125.8,482.85 L1120.25,477.3 Z" fill="#FFFF00" stroke="#000" stroke-width="1.8" stroke-linejoin="miter"/>
<text x="1161.9" y="484.7" text-anchor="start" font-size="28" ><tspan font-style="italic">Density</tspan> = 800 cells/cm<tspan font-size="18.34" dy="-8.0">2</tspan></text>
<line x1="1106.8" y1="508.9" x2="1144.8" y2="508.9" stroke="#7F7F7F" stroke-width="3.1" stroke-linecap="round"/>
<circle cx="1125.8" cy="508.9" r="5.65" fill="#70AD47" stroke="#000" stroke-width="1.8"/>
<text x="1161.9" y="518.2" text-anchor="start" font-size="28" ><tspan font-style="italic">Density</tspan> = 1,600 cells/cm<tspan font-size="18.34" dy="-8.0">2</tspan></text>
</g>
</svg>
</body>
</html>
